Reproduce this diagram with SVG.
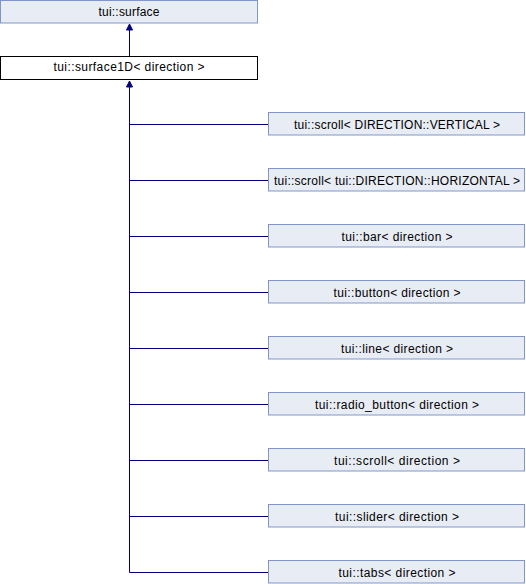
<svg xmlns="http://www.w3.org/2000/svg" width="526" height="584" viewBox="0 0 526 584">
<style>
.n rect{fill:#E8ECF4;stroke:#8096CB;stroke-width:1}
.cur rect{fill:#FFFFFF;stroke:#000000;stroke-width:1}
text{font-family:"Liberation Sans",Arial,sans-serif;font-size:12px;fill:#000000;text-anchor:middle}
.e line{stroke:#000080;stroke-width:1}
.e polygon{fill:#000080;stroke:#000080;stroke-width:1}
</style>
<rect width="526" height="584" fill="#FFFFFF"/>
<g class="e" id="connectors">
<line x1="129.5" y1="30" x2="129.5" y2="56"/>
<polygon points="129.5,24 126.5,30 132.5,30"/>
<line x1="129.5" y1="87" x2="129.5" y2="572.5"/>
<polygon points="129.5,81 126.5,87 132.5,87"/>
<line x1="129.5" y1="124.5" x2="268" y2="124.5"/>
<line x1="129.5" y1="180.5" x2="268" y2="180.5"/>
<line x1="129.5" y1="236.5" x2="268" y2="236.5"/>
<line x1="129.5" y1="292.5" x2="268" y2="292.5"/>
<line x1="129.5" y1="348.5" x2="268" y2="348.5"/>
<line x1="129.5" y1="404.5" x2="268" y2="404.5"/>
<line x1="129.5" y1="460.5" x2="268" y2="460.5"/>
<line x1="129.5" y1="516.5" x2="268" y2="516.5"/>
<line x1="129.5" y1="572.5" x2="268" y2="572.5"/>
</g>
<g class="n" id="surface"><rect x="0.5" y="0.5" width="257" height="22.5"/><text x="129" y="15.5" textLength="61" lengthAdjust="spacing">tui::surface</text></g>
<g class="cur" id="surface1D"><rect x="0.5" y="56.5" width="257" height="23"/><text x="129" y="71" textLength="151" lengthAdjust="spacing">tui::surface1D&lt; direction &gt;</text></g>
<g class="n" id="scroll_vertical"><rect x="268.5" y="112.5" width="256" height="22.5"/><text x="397" y="129" textLength="206" lengthAdjust="spacing">tui::scroll&lt; DIRECTION::VERTICAL &gt;</text></g>
<g class="n" id="scroll_horizontal"><rect x="268.5" y="168.5" width="256" height="22.5"/><text x="397" y="185" textLength="246" lengthAdjust="spacing">tui::scroll&lt; tui::DIRECTION::HORIZONTAL &gt;</text></g>
<g class="n" id="bar"><rect x="268.5" y="224.5" width="256" height="22.5"/><text x="397" y="241" textLength="111" lengthAdjust="spacing">tui::bar&lt; direction &gt;</text></g>
<g class="n" id="button"><rect x="268.5" y="280.5" width="256" height="22.5"/><text x="397" y="297" textLength="127" lengthAdjust="spacing">tui::button&lt; direction &gt;</text></g>
<g class="n" id="line"><rect x="268.5" y="336.5" width="256" height="22.5"/><text x="397" y="353" textLength="112" lengthAdjust="spacing">tui::line&lt; direction &gt;</text></g>
<g class="n" id="radio_button"><rect x="268.5" y="392.5" width="256" height="22.5"/><text x="397" y="409" textLength="164" lengthAdjust="spacing">tui::radio_button&lt; direction &gt;</text></g>
<g class="n" id="scroll"><rect x="268.5" y="448.5" width="256" height="22.5"/><text x="397" y="465" textLength="126" lengthAdjust="spacing">tui::scroll&lt; direction &gt;</text></g>
<g class="n" id="slider"><rect x="268.5" y="504.5" width="256" height="22.5"/><text x="397" y="521" textLength="124" lengthAdjust="spacing">tui::slider&lt; direction &gt;</text></g>
<g class="n" id="tabs"><rect x="268.5" y="560.5" width="256" height="22.5"/><text x="397" y="577" textLength="117" lengthAdjust="spacing">tui::tabs&lt; direction &gt;</text></g>
</svg>
